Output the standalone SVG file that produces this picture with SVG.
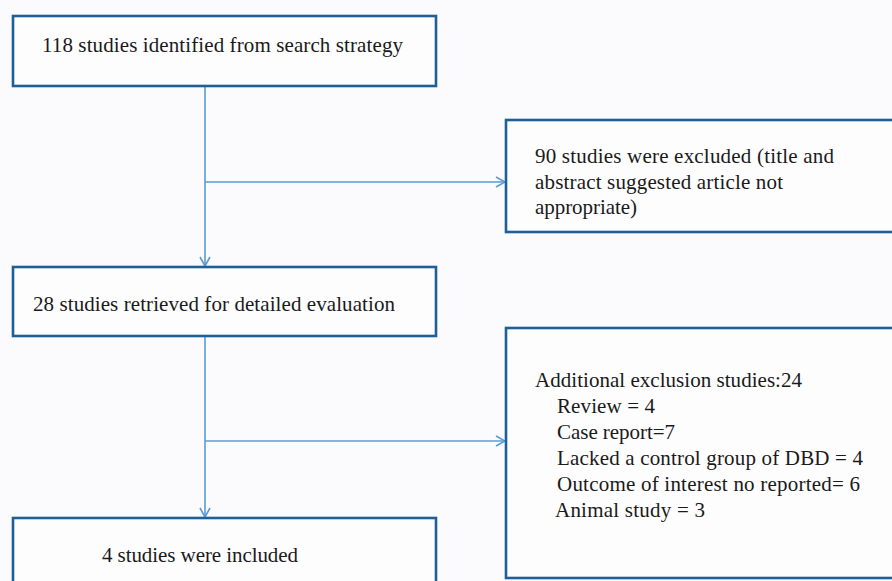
<svg xmlns="http://www.w3.org/2000/svg" width="892" height="581" viewBox="0 0 892 581">
<defs>
<style>
.box{fill:#fdfdfe;stroke:#1f5f97;stroke-width:2.6}
.t{font-family:"Liberation Serif","Times New Roman",serif;font-size:21px;fill:#1a1a1a}
.c{fill:none;stroke:#5b9bd5;stroke-width:1.6}
</style>
<marker id="ah" viewBox="0 0 12 12" refX="11" refY="6" markerWidth="12" markerHeight="12" markerUnits="userSpaceOnUse" orient="auto">
<path d="M2,1 L11,6 L2,11" fill="none" stroke="#5b9bd5" stroke-width="1.6"/>
</marker>
</defs>
<rect width="892" height="581" fill="#fbfbfd"/>
<g id="connectors">
<path class="c" d="M205,86 V266" marker-end="url(#ah)"/>
<path class="c" d="M205,182 H505" marker-end="url(#ah)"/>
<path class="c" d="M205,336 V517" marker-end="url(#ah)"/>
<path class="c" d="M205,441 H505" marker-end="url(#ah)"/>
</g>
<g id="n1">
<rect class="box" x="13" y="16" width="423" height="70"/>
<text class="t" x="42" y="52" textLength="361" lengthAdjust="spacing">118 studies identified from search strategy</text>
</g>
<g id="n2">
<rect class="box" x="506" y="120" width="390" height="112"/>
<text class="t" x="535" y="163" textLength="299" lengthAdjust="spacing">90 studies were excluded (title and</text>
<text class="t" x="535" y="189" textLength="248" lengthAdjust="spacing">abstract suggested article not</text>
<text class="t" x="535" y="214" textLength="102" lengthAdjust="spacing">appropriate)</text>
</g>
<g id="n3">
<rect class="box" x="13" y="267" width="423" height="69"/>
<text class="t" x="33" y="311" textLength="362" lengthAdjust="spacing">28 studies retrieved for detailed evaluation</text>
</g>
<g id="n4">
<rect class="box" x="13" y="518" width="423" height="70"/>
<text class="t" x="102" y="562" textLength="196" lengthAdjust="spacing">4 studies were included</text>
</g>
<g id="n5">
<rect class="box" x="506" y="328" width="390" height="250"/>
<text class="t" x="535" y="387" textLength="267" lengthAdjust="spacing">Additional exclusion studies:24</text>
<text class="t" x="557" y="413" textLength="98" lengthAdjust="spacing">Review = 4</text>
<text class="t" x="557" y="439" textLength="118" lengthAdjust="spacing">Case report=7</text>
<text class="t" x="557" y="465" textLength="306" lengthAdjust="spacing">Lacked a control group of DBD = 4</text>
<text class="t" x="557" y="491" textLength="303" lengthAdjust="spacing">Outcome of interest no reported= 6</text>
<text class="t" x="555" y="517" textLength="150" lengthAdjust="spacing">Animal study = 3</text>
</g>
</svg>
